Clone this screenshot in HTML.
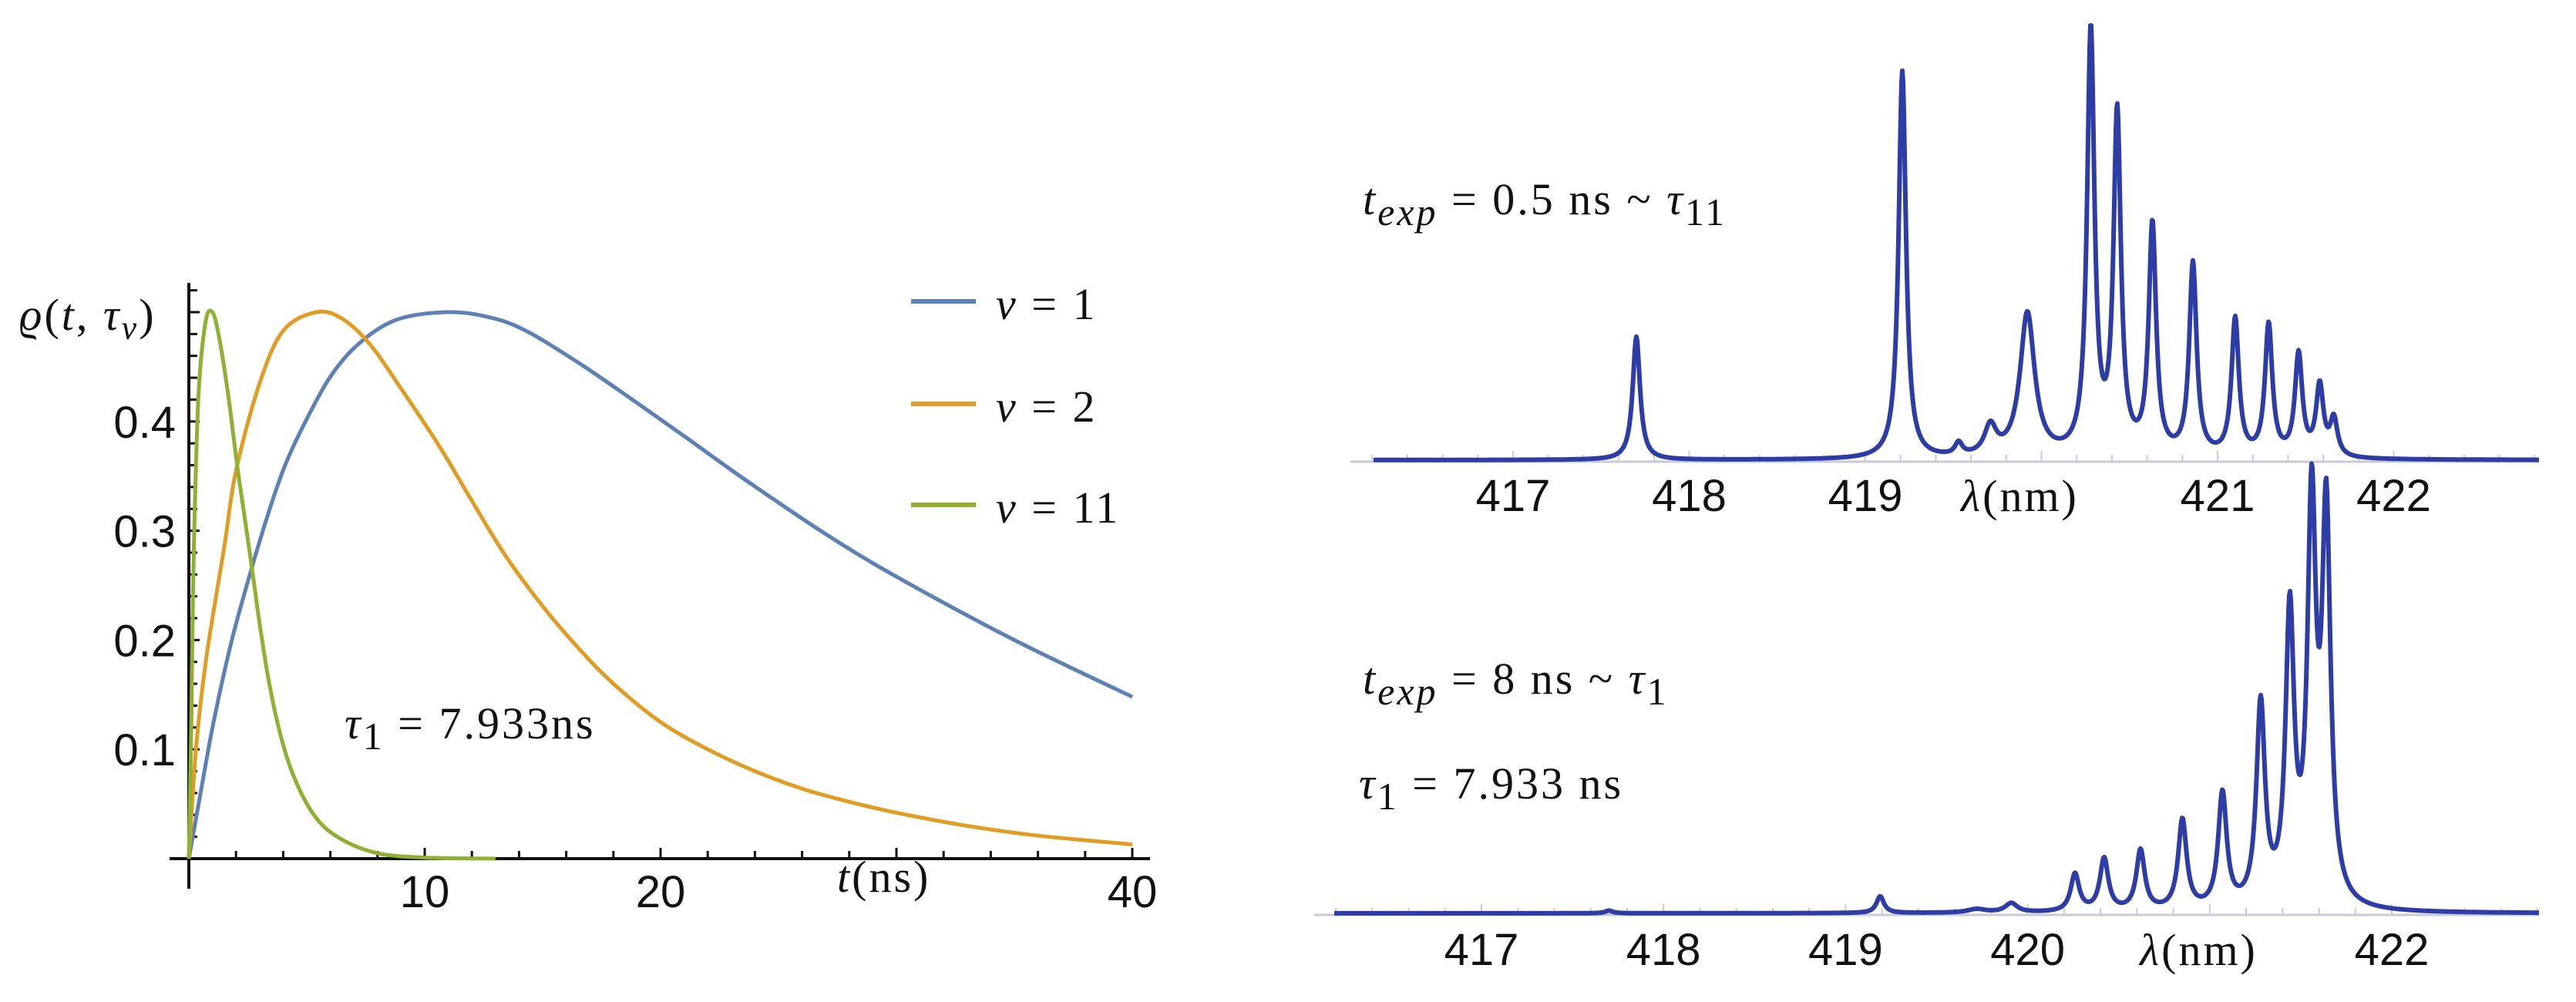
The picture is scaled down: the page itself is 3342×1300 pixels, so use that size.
<!DOCTYPE html>
<html><head><meta charset="utf-8"><style>
html,body{margin:0;padding:0;background:#fff;}
svg{display:block;}
.tick{font-family:"Liberation Sans",sans-serif;font-size:58px;fill:#111;}
.math{font-family:"Liberation Serif",serif;font-size:58px;fill:#111;letter-spacing:3px;}
</style></head><body>
<svg id="fig" width="3342" height="1300" viewBox="0 0 3342 1300" xmlns="http://www.w3.org/2000/svg">
<g id="left"></g>
<g id="top"></g>
<g id="bot"></g>
<text class="math" x="25" y="428" font-size="64"><tspan font-style="italic">ϱ</tspan>(<tspan font-style="italic">t</tspan>, <tspan font-style="italic">τ</tspan><tspan font-style="italic" font-size="44" dy="12">ν</tspan><tspan dy="-12">)</tspan></text>
<text class="math" x="1086" y="1157" font-size="70"><tspan font-style="italic">t</tspan>(ns)</text>
<text class="math" x="447" y="958" font-size="70"><tspan font-style="italic">τ</tspan><tspan font-size="50" dy="14">1</tspan><tspan dy="-14"> = 7.933ns</tspan></text>
<text class="math" x="1768" y="278" font-size="72"><tspan font-style="italic">t</tspan><tspan font-style="italic" font-size="50" dy="14">exp</tspan><tspan dy="-14"> = 0.5 ns ~ </tspan><tspan font-style="italic">τ</tspan><tspan font-size="50" dy="14">11</tspan></text>
<text class="math" x="1768" y="900" font-size="72"><tspan font-style="italic">t</tspan><tspan font-style="italic" font-size="50" dy="14">exp</tspan><tspan dy="-14"> = 8 ns ~ </tspan><tspan font-style="italic">τ</tspan><tspan font-size="50" dy="14">1</tspan></text>
<text class="math" x="1763" y="1036" font-size="72"><tspan font-style="italic">τ</tspan><tspan font-size="50" dy="14">1</tspan><tspan dy="-14"> = 7.933 ns</tspan></text>
</svg>
<script>
// ---- Left chart data ----
const tBlue=[0,0.43,1.05,1.8,2.6,3.4,4.1,4.9,6,7.2,8.8,10.9,12.6,14.2,16.5,18.8,21.1,23.7,27,30,35,40];
const vBlue=[0,0.052,0.125,0.198,0.261,0.318,0.361,0.398,0.441,0.471,0.493,0.5,0.496,0.484,0.454,0.42,0.385,0.345,0.297,0.258,0.2,0.148];
const tOrange=[0,0.3,0.75,1.5,2,3,4,5.4,6.5,7.7,9,10.6,11.9,13.4,15,16.5,18,20,22,24,26,28,30,33,36,40];
const vOrange=[0,0.1,0.185,0.285,0.355,0.435,0.483,0.5,0.494,0.47,0.43,0.378,0.331,0.278,0.231,0.193,0.16,0.125,0.1,0.08,0.064,0.052,0.042,0.03,0.021,0.013];
const tGreen=[0,0.1,0.2,0.4,0.7,1.0,1.3,1.67,2.06,2.44,2.68,2.98,3.37,3.83,4.45,5.37,6.45,8.0,10,13];
const vGreen=[0,0.12,0.27,0.42,0.49,0.5,0.475,0.424,0.358,0.301,0.265,0.218,0.165,0.118,0.075,0.038,0.018,0.005,0.001,0];
const xTicks=[10,20,40];
const yTicks=[0.1,0.2,0.3,0.4];
const legendLabels=["ν = 1","ν = 2","ν = 11"];
// ---- Spectra data (peak centres nm, observed peak heights a.u., half widths nm) ----
const topCenters=[417.70,419.21,419.53,419.71,419.92,420.28,420.43,420.63,420.86,421.10,421.29,421.46,421.58,421.66];
const topHeights=[0.267,0.842,0.042,0.085,0.322,0.947,0.773,0.522,0.432,0.312,0.300,0.238,0.173,0.100];
const topWidths=[0.025,0.025,0.025,0.04,0.05,0.025,0.025,0.025,0.025,0.025,0.025,0.025,0.025,0.025];
const botCenters=[417.70,419.19,419.72,419.91,420.26,420.42,420.62,420.85,421.07,421.28,421.44,421.56,421.64];
const botHeights=[0.006,0.037,0.010,0.023,0.088,0.122,0.140,0.207,0.268,0.472,0.697,0.973,0.942];
const botWidths=[0.025,0.025,0.06,0.04,0.028,0.028,0.028,0.028,0.028,0.028,0.028,0.028,0.028];
const topTicks=[417,418,419,421,422];
const botTicks=[417,418,419,420,422];

const NS="http://www.w3.org/2000/svg";
function mk(parent,tag,attrs,text){const e=document.createElementNS(NS,tag);for(const k in attrs)e.setAttribute(k,attrs[k]);if(text!==undefined)e.textContent=text;parent.appendChild(e);return e;}

const L=document.getElementById('left');
const X0=245, XS=30.6, Y0=1114, YS=1418;
const sx=t=>X0+t*XS, sy=v=>Y0-v*YS;
function spline(ts,vs){const p=ts.map((t,i)=>[sx(t),sy(vs[i])]);let d='M'+p[0][0].toFixed(1)+','+p[0][1].toFixed(1);
 for(let i=0;i<p.length-1;i++){const p0=p[Math.max(i-1,0)],p1=p[i],p2=p[i+1],p3=p[Math.min(i+2,p.length-1)];
 const c1=[p1[0]+(p2[0]-p0[0])/6,p1[1]+(p2[1]-p0[1])/6],c2=[p2[0]-(p3[0]-p1[0])/6,p2[1]-(p3[1]-p1[1])/6];
 d+=' C'+c1.map(v=>v.toFixed(1))+' '+c2.map(v=>v.toFixed(1))+' '+p2[0].toFixed(1)+','+p2[1].toFixed(1);}return d;}
let xa=mk(L,'line',{x1:220,y1:Y0,x2:1492,y2:Y0,stroke:'#111','stroke-width':4});


let ya=mk(L,'line',{x1:X0,y1:367,x2:X0,y2:1153,stroke:'#111','stroke-width':4});


for(let t=2;t<=40;t+=2){const m=(t%10===0);const tk=mk(L,'line',{x1:sx(t),y1:Y0,x2:sx(t),y2:Y0-(m?14:10),stroke:'#111','stroke-width':3});
 
 }
for(let i=1;i<=26;i++){const v=i*0.02;const m=(i%5===0);const tk=mk(L,'line',{x1:X0,y1:sy(v),x2:X0+(m?14:11),y2:sy(v),stroke:'#111','stroke-width':3});
 
 }
xTicks.forEach(t=>{const e=mk(L,'text',{x:sx(t),y:1177,'text-anchor':'middle',class:'tick'},String(t));
 
 });
yTicks.forEach(v=>{const e=mk(L,'text',{x:228,y:sy(v)+21,'text-anchor':'end',class:'tick'},v.toFixed(1));
 
 });
const series=[[tBlue,vBlue,'#5E81B5','series-nu-1'],[tOrange,vOrange,'#E19C24','series-nu-2'],[tGreen,vGreen,'#8FB032','series-nu-11']];
series.forEach(s=>{const p=mk(L,'path',{d:spline(s[0],s[1]),fill:'none',stroke:s[2],'stroke-width':5});
 
 });
const legY=[391,524,655];
legendLabels.forEach((lab,i)=>{const g=mk(L,'g',{});
 
 
 mk(g,'line',{x1:1182,y1:legY[i],x2:1266,y2:legY[i],stroke:series[i][2],'stroke-width':6});
 const parts=lab.split(' = ');
 const tx=mk(g,'text',{x:1292,y:legY[i]+23,class:'math','font-size':74});
 mk(tx,'tspan',{'font-style':'italic'},parts[0]);mk(tx,'tspan',{},' = '+parts[1]);});

function solveAmps(c,h,w){let a=h.slice();for(let it=0;it<40;it++){a=h.map((hi,i)=>{let s=0;for(let j=0;j<c.length;j++){if(j===i)continue;const d=c[i]-c[j];s+=a[j]*w[j]*w[j]/(d*d+w[j]*w[j]);}return Math.max(hi-s,0);});}return a;}
function spectrum(gid,c,h,w,ticks,base,x417,ppn,xl,xr,axL,labelY,lamX,nameP){
 const G=document.getElementById(gid);const a=solveAmps(c,h,w);
 const fx=l=>x417+(l-417)*ppn, fl=x=>417+(x-x417)/ppn;
 const ax=mk(G,'line',{x1:axL,y1:base+2,x2:xr,y2:base+2,stroke:'#c9cad6','stroke-width':3});
 
 
 for(let l=416.2;l<=422.8;l+=0.2){const m=Math.abs(l-Math.round(l))<0.01;const tk=mk(G,'line',{x1:fx(l),y1:base+2,x2:fx(l),y2:base-(m?12:7),stroke:'#c9cad6','stroke-width':2});
  
  }
 ticks.forEach(t=>{const e=mk(G,'text',{x:fx(t),y:labelY,'text-anchor':'middle',class:'tick'},String(t));
  
  });
 const lt=mk(G,'text',{x:lamX,y:labelY,class:'math','font-size':70});
 
 
 mk(lt,'tspan',{'font-style':'italic'},'λ');mk(lt,'tspan',{},'(nm)');
 let d='';for(let x=xl;x<=xr;x+=1){const l=fl(x);let v=0;for(let j=0;j<c.length;j++){const dd=l-c[j];v+=a[j]*w[j]*w[j]/(dd*dd+w[j]*w[j]);}
  d+=(d?'L':'M')+x.toFixed(0)+','+(base-v*600).toFixed(1);}
 const p=mk(G,'path',{d:d,fill:'none',stroke:'#2E3CA6','stroke-width':6,'stroke-linejoin':'round'});
 
 }
spectrum('top',topCenters,topHeights,topWidths,topTicks,597,1963,228.5,1782,3294,1752,663,2544,'top-spectrum');
spectrum('bot',botCenters,botHeights,botWidths,botTicks,1185,1922,236.2,1731,3294,1705,1252,2776,'bottom-spectrum');
</script>
</body></html>
